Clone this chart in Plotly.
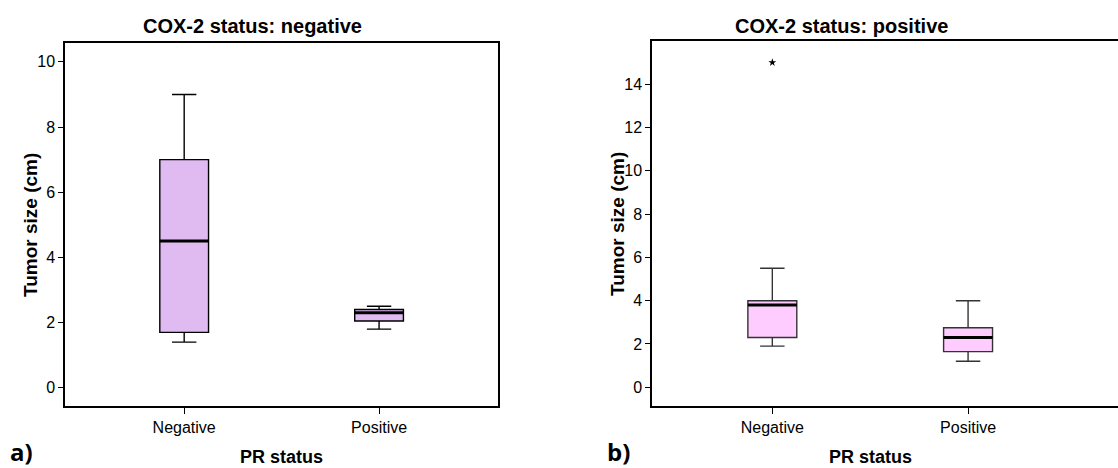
import plotly.graph_objects as go

categories = ["Negative", "Positive"]

# Panel a: COX-2 negative
a_lower = [1.4, 1.8]
a_q1 = [1.7, 2.05]
a_median = [4.5, 2.3]
a_q3 = [7.0, 2.4]
a_upper = [9.0, 2.5]

# Panel b: COX-2 positive
b_lower = [1.9, 1.2]
b_q1 = [2.3, 1.65]
b_median = [3.8, 2.3]
b_q3 = [4.0, 2.75]
b_upper = [5.5, 4.0]
b_outlier_cat = ["Negative"]
b_outlier_val = [15.0]

yticks_a = [0, 2, 4, 6, 8, 10]
yticks_b = [0, 2, 4, 6, 8, 10, 12, 14]

FILL_A = "#E0BBF2"
FILL_B = "#FFCCFF"
BOX_W = 0.25
NARROW = "Liberation Sans Narrow, Arial Narrow, Liberation Sans, Arial"

fig = go.Figure()
pos = {c: i for i, c in enumerate(categories)}


def add_panel(xa, ya, lower, q1, med, q3, upper, fill, outline):
    for i, c in enumerate(categories):
        fig.add_trace(go.Box(
            x=[pos[c]], q1=[q1[i]], median=[med[i]], q3=[q3[i]],
            lowerfence=[lower[i]], upperfence=[upper[i]],
            width=BOX_W, whiskerwidth=0.5, fillcolor=fill,
            line=dict(color=outline, width=1.4), boxpoints=False,
            xaxis=xa, yaxis=ya, showlegend=False, hoverinfo="skip"))
        fig.add_trace(go.Scatter(
            x=[pos[c] - BOX_W / 2, pos[c] + BOX_W / 2], y=[med[i], med[i]],
            mode="lines", line=dict(color="black", width=3),
            xaxis=xa, yaxis=ya, showlegend=False, hoverinfo="skip"))


add_panel("x", "y", a_lower, a_q1, a_median, a_q3, a_upper, FILL_A, "black")
add_panel("x2", "y2", b_lower, b_q1, b_median, b_q3, b_upper, FILL_B, "#333333")

fig.add_trace(go.Scatter(
    x=[pos[c] for c in b_outlier_cat], y=b_outlier_val, mode="markers",
    marker=dict(symbol="star", size=6, color="black"),
    xaxis="x2", yaxis="y2", showlegend=False, hoverinfo="skip"))

tickfont = dict(family=NARROW, size=16, color="black")
common_x = dict(tickmode="array", tickvals=[0, 1], ticktext=categories,
                ticks="outside", ticklen=6, tickcolor="black", tickwidth=1,
                showline=True, linecolor="black", linewidth=2, mirror=True,
                showgrid=False, zeroline=False, tickfont=tickfont)
common_y = dict(ticks="outside", ticklen=5, tickcolor="black", tickwidth=1,
                showline=True, linecolor="black", linewidth=2,
                showgrid=False, zeroline=False, tickfont=tickfont)

fig.update_layout(
    width=1118, height=468,
    margin=dict(l=0, r=0, t=0, b=0),
    paper_bgcolor="white", plot_bgcolor="white",
    xaxis=dict(domain=[0.0584, 0.4454], range=[-0.61, 1.61], anchor="y", **common_x),
    yaxis=dict(domain=[0.1325, 0.9075], range=[-0.56, 10.57], anchor="x",
               tickvals=yticks_a, mirror=True, **common_y),
    xaxis2=dict(domain=[0.5835, 1.0], range=[-0.613, 1.766], anchor="y2", **common_x),
    yaxis2=dict(domain=[0.1331, 0.9118], range=[-0.85, 15.98], anchor="x2",
                tickvals=yticks_b, mirror=False, **common_y),
)

title_font = dict(family=NARROW, size=20, color="black")
ytitle_font = dict(family="Liberation Sans, Arial", size=19, color="black")
xtitle_font = dict(family=NARROW, size=18, color="black")
label_font = dict(family="Open Sans", size=24, color="black")
ann = [
    dict(text="<b>COX-2 status: negative</b>", x=252 / 1118, y=1 - 26 / 468, font=title_font),
    dict(text="<b>COX-2 status: positive</b>", x=841 / 1118, y=1 - 26 / 468, font=title_font),
    dict(text="<b>PR status</b>", x=281 / 1118, y=1 - 457 / 468, font=xtitle_font),
    dict(text="<b>PR status</b>", x=870 / 1118, y=1 - 457 / 468, font=xtitle_font),
    dict(text="<b>Tumor size (cm)</b>", x=30 / 1118, y=1 - 225 / 468, textangle=-90, font=ytitle_font),
    dict(text="<b>Tumor size (cm)</b>", x=617 / 1118, y=1 - 224 / 468, textangle=-90, font=ytitle_font),
    dict(text="<b>a)</b>", x=21 / 1118, y=1 - 451 / 468, font=label_font),
    dict(text="<b>b)</b>", x=618 / 1118, y=1 - 451 / 468, font=label_font),
]
for a in ann:
    fig.add_annotation(xref="paper", yref="paper", showarrow=False,
                       xanchor="center", yanchor="middle", **a)

fig.write_html("out.html")
